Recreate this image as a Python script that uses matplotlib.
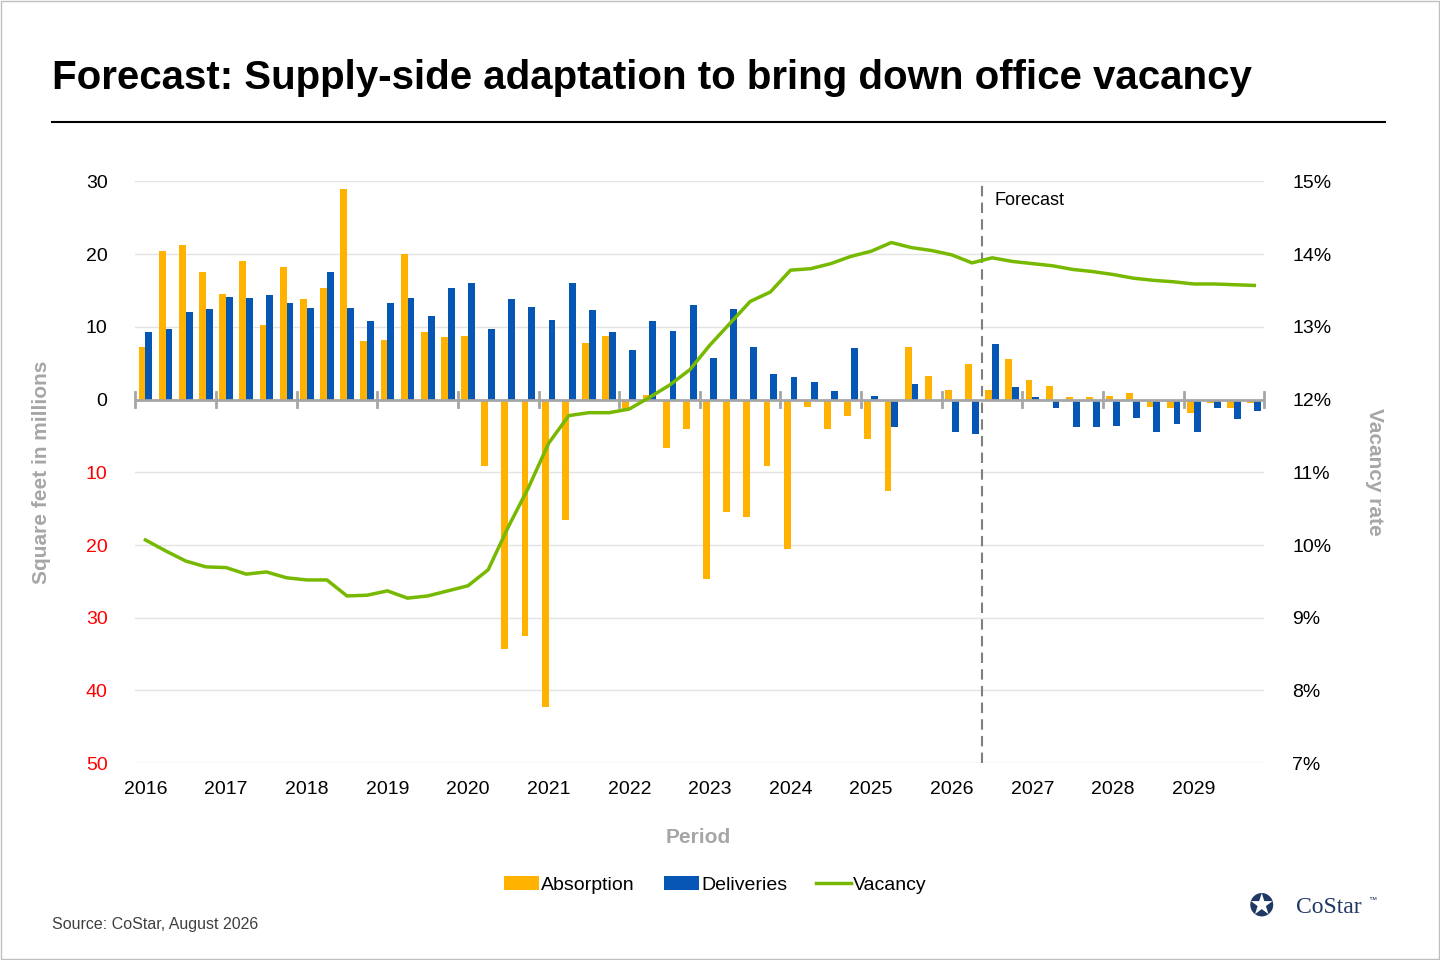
import numpy as np
import matplotlib.pyplot as plt
from matplotlib.transforms import blended_transform_factory

plt.rcParams['font.family'] = ['Liberation Sans', 'DejaVu Sans']

years = list(range(2016, 2030))
quarters = [f"{y}Q{q}" for y in years for q in range(1, 5)]

absorption = [7.2, 20.4, 21.2, 17.6, 14.5, 19.0, 10.2, 18.3,
              13.8, 15.3, 28.9, 8.0, 8.2, 20.0, 9.3, 8.6,
              8.7, -9.1, -34.3, -32.5, -42.3, -16.5, 7.8, 8.7,
              -1.3, 0.6, -6.7, -4.0, -24.7, -15.5, -16.2, -9.1,
              -20.5, -1.0, -4.1, -2.3, -5.4, -12.6, 7.2, 3.2,
              1.3, 4.9, 1.3, 5.6, 2.7, 1.9, 0.4, 0.3,
              0.5, 0.9, -1.0, -1.2, -1.9, -0.4, -1.1, -0.5]
deliveries = [9.3, 9.7, 12.0, 12.5, 14.1, 14.0, 14.4, 13.3,
              12.6, 17.6, 12.6, 10.8, 13.3, 14.0, 11.5, 15.4,
              16.0, 9.7, 13.8, 12.7, 10.9, 16.1, 12.3, 9.3,
              6.8, 10.8, 9.4, 13.0, 5.7, 12.4, 7.2, 3.5,
              3.1, 2.4, 1.2, 7.1, 0.5, -3.8, 2.2, 0.0,
              -4.5, -4.7, 7.6, 1.7, 0.4, -1.2, -3.8, -3.7,
              -3.6, -2.5, -4.5, -3.3, -4.4, -1.1, -2.7, -1.5]
vacancy = [10.07, 9.92, 9.78, 9.70, 9.69, 9.60, 9.63, 9.55,
           9.52, 9.52, 9.30, 9.31, 9.37, 9.27, 9.30, 9.37,
           9.44, 9.66, 10.25, 10.79, 11.40, 11.78, 11.82, 11.82,
           11.87, 12.03, 12.20, 12.41, 12.75, 13.05, 13.35, 13.48,
           13.78, 13.80, 13.87, 13.97, 14.04, 14.16, 14.09, 14.05,
           13.99, 13.88, 13.95, 13.90, 13.87, 13.84, 13.79, 13.76,
           13.72, 13.67, 13.64, 13.62, 13.59, 13.59, 13.58, 13.57]
forecast_start = "2026Q3"

left_ticks = [30, 20, 10, 0, -10, -20, -30, -40, -50]
right_ticks = [15, 14, 13, 12, 11, 10, 9, 8, 7]

ORANGE = "#FFB300"
BLUE = "#0556B5"
GREEN = "#76B900"
GREY = "#A6A6A6"

fig = plt.figure(figsize=(14.4, 9.6), dpi=100)
ax = fig.add_axes([0.094, 0.205, 0.784, 0.606])
x = np.arange(len(quarters))

ax.bar(x - 0.17, absorption, width=0.34, color=ORANGE, label="Absorption", zorder=2)
ax.bar(x + 0.17, deliveries, width=0.34, color=BLUE, label="Deliveries", zorder=2)
ax.set_xlim(-0.5, len(quarters) - 0.5)
ax.set_ylim(-50, 30)
ax.set_yticks(left_ticks)
ax.set_yticklabels([str(abs(t)) for t in left_ticks], fontsize=14)
for lbl, t in zip(ax.get_yticklabels(), left_ticks):
    lbl.set_color("red" if t < 0 else "black")
ax.tick_params(axis="y", length=0, pad=20)
ax.grid(axis="y", color="#E3E3E3", lw=1, zorder=0)
for s in ax.spines.values():
    s.set_visible(False)

# zero axis with quarter-group ticks
ax.axhline(0, color=GREY, lw=2, zorder=3)
bounds = np.arange(-0.5, len(quarters), 4)
ax.set_xticks(bounds)
ax.set_xticklabels([])
ax.tick_params(axis="x", length=0)
for b in bounds:
    ax.plot([b, b], [-1.0, 1.0], color=GREY, lw=2, zorder=3, clip_on=False)
trans = blended_transform_factory(ax.transData, ax.transAxes)
for i, yr in enumerate(years):
    ax.text(i * 4, -0.03, str(yr), transform=trans, ha="center", va="top", fontsize=14)

# forecast marker
fi = quarters.index(forecast_start) - 0.5
ax.axvline(fi, color="#7F7F7F", lw=1.5, ls=(0, (5, 3)), zorder=4)
ax.text(fi + 0.6, 28.5, "Forecast", fontsize=13, va="top")

ax2 = ax.twinx()
ax2.plot(x, vacancy, color=GREEN, lw=2.5, label="Vacancy", zorder=5)
ax2.set_ylim(7, 15)
ax2.set_yticks(right_ticks)
ax2.set_yticklabels([f"{t}%" for t in right_ticks], fontsize=14)
ax2.tick_params(axis="y", length=0, pad=20)
for s in ax2.spines.values():
    s.set_visible(False)

ax.set_ylabel("Square feet in millions", fontsize=15, color=GREY, fontweight="bold", labelpad=25)
ax2.set_ylabel("Vacancy rate", fontsize=15, color=GREY, fontweight="bold", rotation=270, labelpad=38)
fig.text(0.485, 0.128, "Period", fontsize=15, color=GREY, fontweight="bold", ha="center", va="center")

h1, l1 = ax.get_legend_handles_labels()
h2, l2 = ax2.get_legend_handles_labels()
fig.legend(h1 + h2, l1 + l2, loc="center", bbox_to_anchor=(0.497, 0.078), ncol=3, frameon=False,
           fontsize=14, handlelength=1.8, handletextpad=0.1, columnspacing=1.5)

fig.text(0.036, 0.919, "Forecast: Supply-side adaptation to bring down office vacancy",
         fontsize=29, fontweight="bold", va="center")
fig.add_artist(plt.Line2D([0.036, 0.962], [0.873, 0.873], color="black", lw=1.5))
fig.text(0.036, 0.037, "Source: CoStar, August 2026", fontsize=11.5, color="#404040", va="center")
fig.text(0.900, 0.055, "CoStar", fontsize=17, color="#1F3864", va="center", family=["Liberation Serif"])
fig.text(0.950, 0.062, "™", fontsize=6, color="#1F3864", va="center")
fig.text(0.876, 0.055, "✪", fontsize=22, color="#1F3864", ha="center", va="center", family=["DejaVu Sans"])
fig.add_artist(plt.Rectangle((0.001, 0.001), 0.998, 0.998, fill=False, ec="#BFBFBF", lw=1,
                             transform=fig.transFigure))

fig.savefig("out.png", dpi=100)
